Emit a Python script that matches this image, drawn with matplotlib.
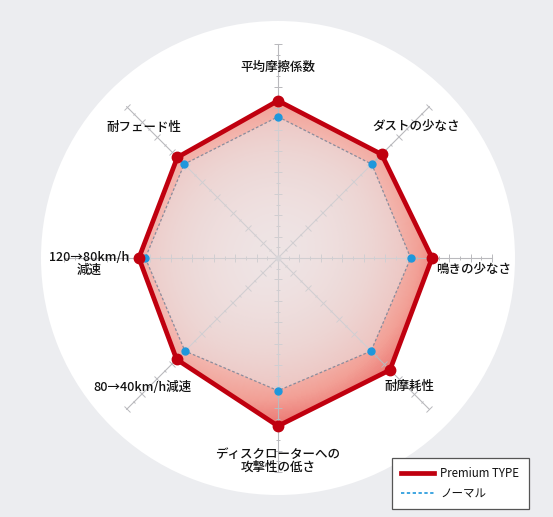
import numpy as np
import matplotlib
matplotlib.use("Agg")
import matplotlib.pyplot as plt
from matplotlib.colors import LinearSegmentedColormap
from matplotlib.lines import Line2D
from matplotlib.markers import MarkerStyle
from matplotlib.transforms import Affine2D

plt.rcParams['font.family'] = ['Noto Sans CJK JP', 'DejaVu Sans']

# axes, clockwise from the top
categories = ['平均摩擦係数', 'ダストの少なさ', '鳴きの少なさ', '耐摩耗性',
              'ディスクローターへの\n攻撃性の低さ', '80→40km/h減速',
              '120→80km/h\n減速', '耐フェード性']
premium = [7.35, 6.85, 7.2, 7.4, 7.85, 6.7, 6.5, 6.65]
normal = [6.6, 6.2, 6.2, 6.15, 6.2, 6.15, 6.2, 6.2]
series_names = ['Premium TYPE', 'ノーマル']

R_MAX = 10
PX_PER_UNIT = 21.4
BG = '#ecedf0'
RED = '#c0000f'
BLUE = '#1f97dc'
GRID = '#b9b9bd'

fig = plt.figure(figsize=(5.53, 5.17), dpi=100, facecolor=BG)
W, H = 553, 517
cx, cy, rc = 278, 258, 237
ax = fig.add_axes([(cx - rc) / W, 1 - (cy + rc) / H, 2 * rc / W, 2 * rc / H],
                  projection='polar')
ax.set_theta_offset(np.pi / 2)
ax.set_theta_direction(-1)
ax.set_ylim(0, rc / PX_PER_UNIT)
ax.set_facecolor('white')
ax.grid(False)
ax.set_xticks([])
ax.set_yticks([])
ax.spines['polar'].set_visible(False)

n = len(categories)
theta = np.arange(n) * 2 * np.pi / n
th_closed = np.append(theta, theta[0])

# spokes with tick marks
for t in theta:
    ax.plot([t, t], [0, R_MAX], color=GRID, lw=0.8, zorder=1)
    phi = 90 - np.degrees(t)
    tick = MarkerStyle('_', transform=Affine2D().rotate_deg(phi + 90))
    major = np.arange(1, R_MAX + 1)
    minor = np.arange(0.5, R_MAX, 1.0)
    ax.plot(np.full(major.size, t), major, ls='none', marker=tick, ms=5.5,
            mew=0.7, color=GRID, zorder=1)
    ax.plot(np.full(minor.size, t), minor, ls='none', marker=tick, ms=3.0,
            mew=0.7, color=GRID, zorder=1)

# gradient fill of the premium polygon
cmap = LinearSegmentedColormap.from_list(
    'pinkred', ['#f4e4e3', '#f3c6c0', '#f2a096', '#e8605e'])
tg = np.linspace(0, 2 * np.pi, 361)
rg = np.linspace(0, 9, 181)
TG, RG = np.meshgrid(tg, rg)
sx = RG * np.sin(TG)
sy = RG * np.cos(TG)
v = (RG / 8.0) ** 1.8 * 0.8 + 0.18 * np.clip((sx - sy) / (np.sqrt(2) * 8), 0, 1)
mesh = ax.pcolormesh(TG, RG, np.clip(v, 0, 1), cmap=cmap, vmin=0, vmax=1,
                     shading='auto', zorder=0.5)
poly = ax.fill(th_closed, np.append(premium, premium[0]), facecolor='none',
               edgecolor='none')[0]
mesh.set_clip_path(poly)

# normal polygon: lighter overlay
ax.fill(th_closed, np.append(normal, normal[0]), facecolor='#e9e4e6',
        alpha=0.5, edgecolor='none', zorder=2)
ax.plot(th_closed, np.append(normal, normal[0]), color='#8a8c9c', lw=0.9,
        ls=(0, (2.2, 1.6)), zorder=3)
ax.plot(theta, normal, ls='none', marker='o', ms=5, color=BLUE, zorder=4)

# premium outline
ax.plot(th_closed, np.append(premium, premium[0]), color=RED, lw=3.4,
        solid_joinstyle='miter', zorder=5)
ax.plot(theta, premium, ls='none', marker='o', ms=7.5, color=RED, zorder=6)

# center dot
ax.plot([0], [0], marker='o', ms=3.5, color='#c8c8cc', zorder=1)

# category labels (pixel placement)
label_pos = [(278, 67, 'center'), (416, 126, 'center'), (436, 269, 'left'),
             (409, 386, 'center'), (278, 461, 'center'), (142, 387, 'center'),
             (129, 264, 'right'), (144, 127, 'center')]
for lab, (px, py, ha) in zip(categories, label_pos):
    fig.text(px / W, 1 - py / H, lab, ha=ha, va='center', fontsize=9,
             color='#111111', linespacing=1.0, multialignment='center',
             fontweight='medium')

handles = [Line2D([], [], color=RED, lw=3.4),
           Line2D([], [], color=BLUE, lw=1.2, ls=(0, (2, 1.5)))]
leg = fig.legend(handles, series_names, loc='upper left',
                 bbox_to_anchor=(392 / W, 1 - 458 / H), fontsize=8.3,
                 frameon=True, fancybox=False, edgecolor='#555555',
                 framealpha=1, handlelength=2.8, borderpad=0.8,
                 labelspacing=0.6, handletextpad=0.6, borderaxespad=0)
leg.get_frame().set_linewidth(0.9)
for txt in leg.get_texts():
    txt.set_color('#111111')

fig.savefig('out.png', dpi=100, facecolor=BG)
